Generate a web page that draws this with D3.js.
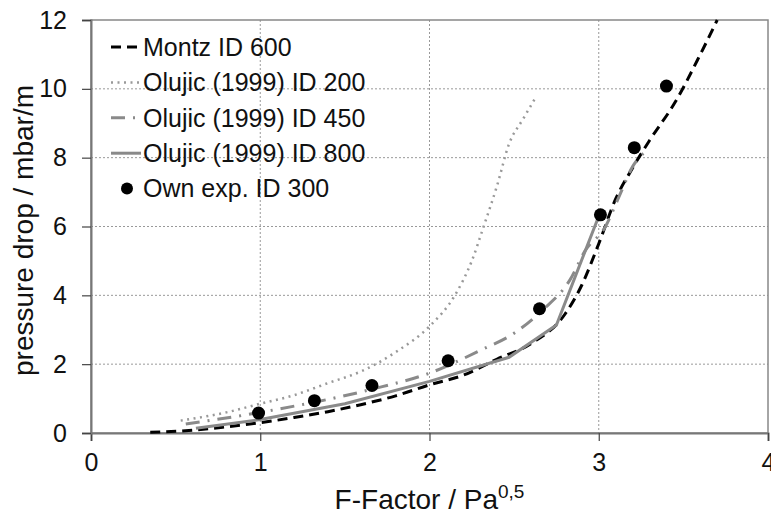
<!DOCTYPE html>
<html>
<head>
<meta charset="utf-8">
<script src="https://cdn.jsdelivr.net/npm/d3@7"></script>
<style>
  body { margin: 0; background: #fff; }
  svg { display: block; font-family: "Liberation Sans", Arial, sans-serif; }
  .grid line { stroke: #999; stroke-width: 1; stroke-dasharray: 2,2; }
</style>
</head>
<body>
<svg id="chart" width="771" height="516"></svg>
<script>
// F-Factor (x) and pressure drop (y) for every series
const montzF  = [0.35, 0.6, 0.8, 1.0, 1.2, 1.4, 1.6, 1.8, 2.0, 2.2, 2.4, 2.6, 2.8, 2.9, 3.0, 3.1, 3.2, 3.3, 3.45, 3.6, 3.7];
const montzDp = [0.02, 0.08, 0.18, 0.3, 0.45, 0.62, 0.83, 1.08, 1.4, 1.68, 2.15, 2.6, 3.45, 4.3, 5.5, 6.8, 7.7, 8.5, 9.6, 11.0, 12.0];

const olu200F  = [0.53, 0.8, 1.0, 1.2, 1.4, 1.6, 1.8, 2.0, 2.15, 2.25, 2.32, 2.4, 2.47, 2.55, 2.63];
const olu200Dp = [0.36, 0.6, 0.85, 1.1, 1.45, 1.8, 2.35, 3.1, 4.0, 5.0, 6.0, 7.2, 8.4, 9.1, 9.77];

const olu450F  = [0.56, 1.0, 1.65, 2.0, 2.3, 2.5, 2.67, 2.83, 2.92, 3.04, 3.12, 3.2, 3.28];
const olu450Dp = [0.26, 0.6, 1.26, 1.74, 2.4, 2.9, 3.58, 4.45, 5.3, 6.0, 6.87, 7.74, 8.2];

const olu800F  = [0.62, 1.0, 1.5, 2.0, 2.47, 2.75, 3.0];
const olu800Dp = [0.14, 0.39, 0.85, 1.5, 2.2, 3.14, 6.3];

const ownF  = [0.99, 1.32, 1.66, 2.11, 2.65, 3.01, 3.21, 3.4];
const ownDp = [0.58, 0.94, 1.38, 2.1, 3.61, 6.34, 8.29, 10.08];

const xTicks = [0, 1, 2, 3, 4];
const yTicks = [0, 2, 4, 6, 8, 10, 12];

const legendLabels = ["Montz ID 600", "Olujic (1999) ID 200", "Olujic (1999) ID 450", "Olujic (1999) ID 800", "Own exp. ID 300"];

const margin = { top: 20, right: 3, bottom: 83, left: 91 };
const svg = d3.select("#chart");
const width = 771 - margin.left - margin.right;
const height = 516 - margin.top - margin.bottom;

const x = d3.scaleLinear().domain([0, 4]).range([0, width]);
const y = d3.scaleLinear().domain([0, 12]).range([height, 0]);

const g = svg.append("g").attr("transform", `translate(${margin.left},${margin.top})`);

// grid
const grid = g.append("g").attr("class", "grid");
grid.selectAll(".gx").data(xTicks.slice(1, -1)).enter().append("line")
    .attr("x1", d => x(d)).attr("x2", d => x(d)).attr("y1", 0).attr("y2", height);
grid.selectAll(".gy").data(yTicks.slice(1, -1)).enter().append("line")
    .attr("x1", 0).attr("x2", width).attr("y1", d => y(d)).attr("y2", d => y(d));

// frame
g.append("rect").attr("width", width).attr("height", height)
    .attr("fill", "none").attr("stroke", "#888").attr("stroke-width", 1.5);

// axes
const xAxis = g.append("g").attr("transform", `translate(0,${height})`)
    .call(d3.axisBottom(x).tickValues(xTicks).tickFormat(d3.format("d")).tickSize(8).tickPadding(12));
const yAxis = g.append("g")
    .call(d3.axisLeft(y).tickValues(yTicks).tickFormat(d3.format("d")).tickSize(9).tickPadding(15));
[xAxis, yAxis].forEach(a => {
    a.select(".domain").attr("stroke", "#777").attr("stroke-width", 2);
    a.selectAll(".tick line").attr("stroke", "#444").attr("stroke-width", 1.2);
    a.selectAll(".tick text").attr("font-size", 25).attr("fill", "#111")
        .attr("font-family", "Liberation Sans, Arial, sans-serif");
});

// axis titles
svg.append("text")
    .attr("x", margin.left + width / 2).attr("y", 509)
    .attr("text-anchor", "middle").attr("font-size", 28).attr("fill", "#111")
    .text("F-Factor / Pa")
    .append("tspan").attr("dy", -11).attr("font-size", 19).text("0,5");

svg.append("text")
    .attr("transform", `translate(33,${margin.top + height / 2 + 4}) rotate(-90)`)
    .attr("text-anchor", "middle").attr("font-size", 28).attr("fill", "#111")
    .text("pressure drop / mbar/m");

const line = d3.line().x(d => x(d[0])).y(d => y(d[1]));
const zip = (a, b) => a.map((v, i) => [v, b[i]]);

const styles = [
    { stroke: "#000", width: 3, dash: "10,6" },
    { stroke: "#999", width: 2.5, dash: "2,4.5" },
    { stroke: "#8a8a8a", width: 3, dash: "14,8,2,8" },
    { stroke: "#8a8a8a", width: 3, dash: null }
];
const series = [zip(montzF, montzDp), zip(olu200F, olu200Dp), zip(olu450F, olu450Dp), zip(olu800F, olu800Dp)];

const plot = g.append("g");
series.forEach((s, i) => {
    plot.append("path").datum(s)
        .attr("d", line.curve(i === 3 ? d3.curveLinear : d3.curveMonotoneX))
        .attr("fill", "none")
        .attr("stroke", styles[i].stroke)
        .attr("stroke-width", styles[i].width)
        .attr("stroke-dasharray", styles[i].dash);
});

plot.selectAll("circle").data(zip(ownF, ownDp)).enter().append("circle")
    .attr("cx", d => x(d[0])).attr("cy", d => y(d[1])).attr("r", 6.5).attr("fill", "#000");

// legend
const legend = svg.append("g").attr("transform", "translate(111,47)");
legendLabels.forEach((lab, i) => {
    const row = legend.append("g").attr("transform", `translate(0,${i * 35.4})`);
    if (i < 4) {
        row.append("line").attr("x1", 0).attr("x2", 30).attr("y1", 0).attr("y2", 0)
            .attr("stroke", styles[i].stroke).attr("stroke-width", styles[i].width)
            .attr("stroke-dasharray", styles[i].dash);
    } else {
        row.append("circle").attr("cx", 16).attr("cy", 0).attr("r", 6).attr("fill", "#000");
    }
    row.append("text").attr("x", 32).attr("y", 0).attr("dy", "0.35em")
        .attr("font-size", 25).attr("fill", "#111").text(lab);
});
</script>
</body>
</html>
